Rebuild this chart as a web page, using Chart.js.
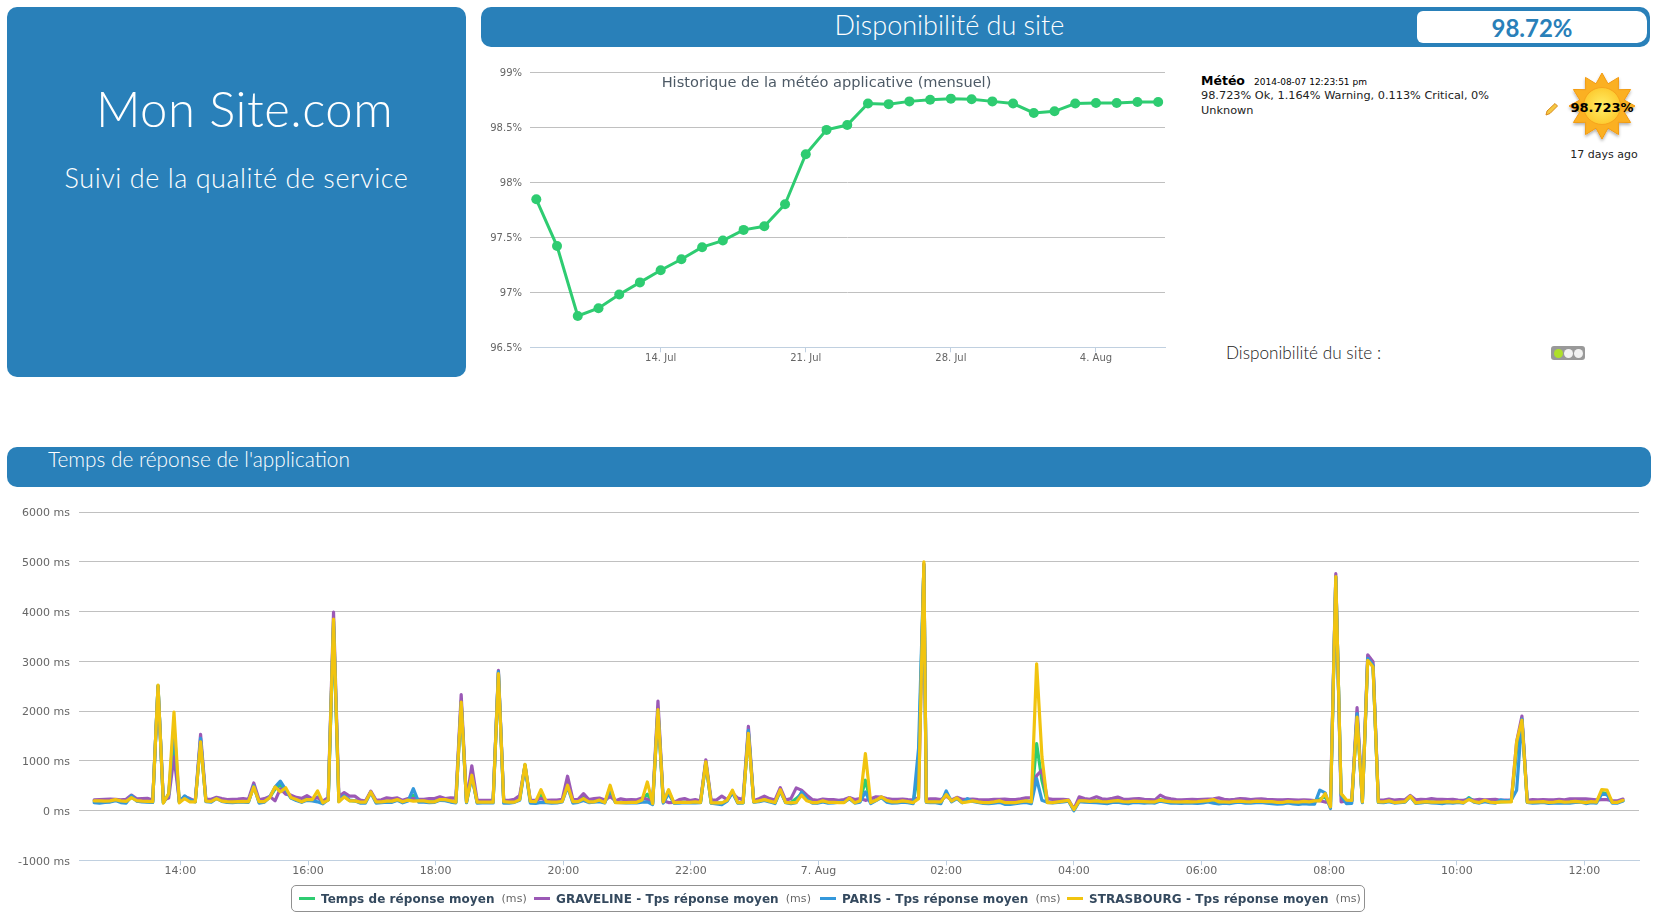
<!DOCTYPE html>
<html lang="fr"><head><meta charset="utf-8">
<title>Mon Site.com</title>
<script src="https://cdn.jsdelivr.net/npm/chart.js@4/dist/chart.umd.js"></script>
<style>
html,body{margin:0;padding:0;background:#fff;width:1659px;height:913px;overflow:hidden}
.abs{position:absolute}
.panel{position:absolute;background:#2980b9;border-radius:10px}
.cg{font-family:Lato,"Open Sans",sans-serif;font-weight:300;color:#fff;white-space:nowrap}
.dj{font-family:"DejaVu Sans",sans-serif;white-space:nowrap}
canvas{position:absolute;display:block}
#legend{position:absolute;left:291px;top:885px;width:1072px;height:25px;border:1px solid #909090;border-radius:5px;box-sizing:content-box;display:flex;align-items:center;font:bold 12px "DejaVu Sans",sans-serif;letter-spacing:.06px;color:#34495e;white-space:nowrap}
#legend .it{position:absolute;top:0;height:25px;display:flex;align-items:center}
#legend i{display:inline-block;width:16px;height:3px;margin-right:6px}
#legend em{font:normal 11px "DejaVu Sans",sans-serif;color:#666;margin-left:7px}
</style></head><body>

<div class="panel" style="left:7px;top:7px;width:459px;height:370px"></div>
<div class="abs cg" style="left:15px;width:459px;top:78px;text-align:center;font-size:49px;letter-spacing:.5px;line-height:60px">Mon Site.com</div>
<div class="abs cg" style="left:7px;width:459px;top:160px;text-align:center;font-size:27px;letter-spacing:.55px;line-height:36px">Suivi de la qualité de service</div>

<div class="panel" style="left:481px;top:7px;width:1169px;height:40px"></div>
<div class="abs cg" style="left:482px;width:935px;top:7.5px;text-align:center;font-size:27px;line-height:34px">Disponibilité du site</div>
<div class="abs" style="left:1417px;top:11px;width:230px;height:32px;background:#fff;border-radius:6px 10px 10px 6px"></div>
<div class="abs cg" style="left:1417px;width:230px;top:10.5px;text-align:center;font-size:24px;line-height:34px;font-weight:700;color:#2980b9">98.72%</div>

<canvas id="dispo" width="692" height="330" style="left:488px;top:50px;width:692px;height:330px"></canvas>

<div class="abs" style="left:1201px;top:73px;font:bold 12.5px 'DejaVu Sans',sans-serif;color:#000">Météo</div>
<div class="abs dj" style="left:1254px;top:76.5px;font-size:9px;color:#000">2014-08-07 12:23:51 pm</div>
<div class="abs dj" style="left:1201px;top:89px;width:300px;white-space:normal;font-size:11.3px;line-height:14.5px;color:#222">98.723% Ok, 1.164% Warning, 0.113% Critical, 0% Unknown</div>

<svg class="abs" id="pencil" style="left:1545px;top:102px" width="14" height="14" viewBox="0 0 14 14">
<path d="M1 13 L2 9 L10 1.5 L12.5 4 L5 11.5 Z" fill="#f5c842" stroke="#d98a1f" stroke-width="1"/></svg>
<svg class="abs" id="sun" style="left:1562px;top:66px" width="80" height="80" viewBox="0 0 80 80">
<defs><radialGradient id="sg"><stop offset="0" stop-color="#ffee66"/><stop offset="1" stop-color="#fdcb30"/></radialGradient>
<filter id="sd"><feDropShadow dx="0" dy="2" stdDeviation="1.5" flood-color="#000" flood-opacity=".3"/></filter></defs>
<polygon id="star" fill="#fbb024" stroke="#f29a12" stroke-width="1" filter="url(#sd)"/>
<circle cx="40" cy="40" r="18.5" fill="url(#sg)" stroke="#f7a41d" stroke-width="1"/></svg>
<div class="abs dj" style="left:1562px;width:80px;top:100px;text-align:center;font-size:13px;font-weight:bold;color:#000">98.723%</div>
<div class="abs dj" style="left:1564px;width:80px;top:148px;text-align:center;font-size:11px;color:#222">17 days ago</div>

<div class="abs" style="left:1226px;top:342px;font:300 17.2px Lato,sans-serif;color:#222;white-space:nowrap">Disponibilité du site :</div>
<div class="abs" style="left:1551px;top:346px;width:34px;height:14px;background:#999;border-radius:3px"></div>
<div class="abs" style="left:1554px;top:348.5px;width:9px;height:9px;border-radius:50%;background:#aee02a"></div>
<div class="abs" style="left:1564px;top:348.5px;width:9px;height:9px;border-radius:50%;background:#f2f2f2"></div>
<div class="abs" style="left:1574px;top:348.5px;width:9px;height:9px;border-radius:50%;background:#f2f2f2"></div>

<div class="panel" style="left:7px;top:447px;width:1644px;height:40px"></div>
<div class="abs cg" style="left:48px;top:444.5px;font-size:20.8px;line-height:28px">Temps de réponse de l'application</div>

<canvas id="temps" width="1659" height="433" style="left:0;top:480px;width:1659px;height:433px"></canvas>
<div id="legend"></div>

<script>
// --- Historique de la météo (mensuel) ---
const dispoDays = [8,9,10,11,12,13,14,15,16,17,18,19,20,21,22,23,24,25,26,27,28,29,30,31,32,33,34,35,36,37,38];
const dispoValues = [97.845,97.42,96.785,96.855,96.98,97.09,97.2,97.3,97.41,97.47,97.567,97.6,97.8,98.255,98.476,98.52,98.715,98.71,98.735,98.75,98.76,98.755,98.735,98.715,98.63,98.645,98.715,98.72,98.72,98.73,98.73];
const dispoTickDays = [14,21,28,35];
const dispoTickLabels = ["14. Jul","21. Jul","28. Jul","4. Aug"];
const dispoTitle = "Historique de la météo applicative (mensuel)";

// --- Temps de réponse (ms), one sample roughly every 5 minutes from 12:39 ---
const seriesNames = ["Temps de réponse moyen","GRAVELINE - Tps réponse moyen","PARIS - Tps réponse moyen","STRASBOURG - Tps réponse moyen"];
const moyen = [
190,180,185,195,215,185,170,270,200,190,180,175,2510,160,330,1450,170,260,190,180,
1400,190,185,250,195,180,175,180,180,180,490,175,180,265,430,520,400,255,215,175,
250,215,275,165,215,3700,185,285,200,195,175,170,375,170,170,190,185,215,170,205,
310,190,190,175,175,220,215,190,170,2200,170,700,170,170,170,170,2770,170,170,175,
230,920,175,175,320,175,175,170,190,520,185,195,275,180,185,215,170,375,170,165,
165,170,165,215,330,145,2050,170,380,155,165,170,165,175,165,970,150,150,150,200,
380,160,155,1570,175,190,220,185,155,410,165,160,240,340,220,165,160,190,170,165,
175,175,250,165,190,610,165,210,270,210,180,180,195,180,165,800,4950,
180,
175,175,170,340,190,250,165,190,195,175,160,160,175,190,155,155,160,180,195,175,
1345,600,170,165,175,190,200,15,200,190,
190,200,185,180,190,205,180,180,190,185,180,180,175,220,195,180,175,175,180,180,
185,190,200,215,170,175,170,185,190,180,175,190,185,180,180,165,165,180,175,170,180,175,190,
230,275,70,4700,330,190,190,1900,170,3030,2900,170,170,195,165,170,180,290,160,170,
180,170,170,170,180,170,180,165,260,185,165,200,170,165,175,180,185,1200,1820,170,
170,175,180,170,170,185,175,180,185,180,165,180,175,360,340,170,170,200];
const graveline = [
215,220,225,230,225,215,225,310,235,240,245,210,2480,210,250,1080,190,275,240,190,
1530,230,225,265,240,220,225,230,240,225,555,215,240,285,195,440,330,310,265,245,
300,235,260,190,260,3990,280,360,290,290,210,190,390,205,215,255,240,255,205,240,
240,225,225,240,240,275,240,255,250,2330,195,900,205,205,205,205,2820,210,205,225,
300,900,210,205,240,205,210,210,225,690,220,225,340,220,240,250,210,280,195,235,
215,220,215,250,225,170,2200,195,160,165,220,240,200,220,190,1020,210,210,290,220,
350,250,220,1690,195,240,290,240,210,460,210,240,455,410,310,220,205,230,220,220,
205,220,260,220,240,205,235,275,270,240,225,225,230,220,215,260,4960,
225,
235,235,220,290,215,265,225,225,230,220,215,215,225,225,230,220,220,235,255,260,
700,810,240,225,225,225,215,30,275,240,
225,275,235,225,245,270,230,225,235,240,225,220,215,310,255,235,220,215,220,225,
220,225,230,235,255,225,215,225,240,235,220,230,235,225,220,215,215,220,215,210,215,210,200,
200,170,170,4760,175,195,195,2070,200,3130,2990,210,210,230,210,220,215,305,215,225,
220,240,225,225,220,225,210,205,230,210,225,215,220,225,205,210,205,1380,1900,205,
220,215,220,215,215,225,215,235,235,235,235,225,215,220,220,200,195,230];
const paris = [
160,150,165,170,200,160,150,300,190,175,170,165,2500,160,320,1700,170,295,215,175,
1450,180,170,245,185,165,160,170,170,165,500,150,170,275,470,590,420,250,200,165,
205,195,175,135,220,3800,190,300,210,195,150,150,360,150,160,170,165,205,155,190,
440,170,170,160,165,205,200,170,155,2150,160,690,150,155,155,155,2790,150,150,165,
205,890,150,145,165,160,150,155,175,480,150,165,200,160,170,180,150,450,165,160,
155,160,155,170,175,120,2000,150,340,150,150,160,155,155,160,960,150,135,120,190,
360,150,155,1610,170,180,205,175,140,390,160,140,160,375,240,150,150,175,150,155,
170,170,235,150,170,375,140,200,260,170,150,155,170,160,140,1250,4900,
165,
160,160,140,395,175,240,155,240,185,165,145,140,150,165,125,125,140,155,165,140,
640,205,165,155,165,175,190,-5,180,170,
165,160,150,140,165,170,150,140,165,160,150,160,150,190,170,150,150,145,155,150,
145,155,175,150,135,150,140,160,170,150,150,160,165,150,140,130,135,155,135,125,140,130,130,
410,355,40,4680,300,140,145,1950,160,3060,2920,165,160,180,150,160,170,285,145,155,
170,155,150,140,160,150,165,150,245,170,150,180,160,150,215,195,210,410,1840,165,
150,155,165,145,150,150,155,150,165,170,140,160,150,330,320,150,150,190];
const strasbourg = [
195,195,190,195,220,195,185,260,200,190,185,180,2520,150,340,1980,155,240,175,175,
1380,188,185,240,190,180,175,180,185,180,475,180,180,260,475,375,460,260,220,175,
220,220,395,155,210,3850,175,275,195,195,170,170,375,175,175,190,190,220,175,210,
190,195,195,175,175,220,220,195,170,2180,175,710,170,170,170,170,2750,180,170,170,
220,930,185,180,420,180,170,170,185,510,180,180,240,175,175,210,160,510,160,160,
160,165,165,210,575,140,2030,175,420,160,165,165,165,175,165,980,155,155,155,205,
410,160,160,1550,175,195,220,190,160,420,165,155,165,310,195,160,160,195,165,165,
160,160,255,155,195,1145,160,205,275,205,175,175,195,180,160,240,5000,
175,
175,175,175,320,190,255,160,175,195,175,160,160,175,195,160,160,160,180,195,175,
2950,1080,160,160,175,190,205,20,195,195,
185,195,180,175,190,200,180,175,190,185,180,175,175,210,190,180,175,175,180,175,
180,190,200,220,175,175,170,185,190,180,175,190,185,180,180,165,165,185,175,170,185,175,195,
195,340,75,4700,340,210,205,1880,175,3020,2885,175,175,195,160,170,180,290,155,170,
180,170,170,170,180,170,180,160,220,180,160,205,170,160,175,175,175,1380,1815,170,
170,175,180,165,170,185,170,175,185,175,160,180,170,420,410,165,165,205];
const seriesColors = ["#2ecc71","#9b59b6","#3498db","#f1c40f"];
const tempsTicks = [840,960,1080,1200,1320,1440,1560,1680,1800,1920,2040,2160];
const tempsYStep = 1000;

// sample clock: 5-minute slots, with one short interval right after the 01:39 spike
function sampleMinute(j){
  const pos = j<=156 ? j : j===157 ? 156.45 : j<=188 ? (j-1)+0.2 : (j-1)+0.45;
  return 759 + 5*pos;
}
function pad2(n){return String(n).padStart(2,"0");}
function tempsLabel(v){
  if(v===1440) return "7. Aug";
  return pad2(Math.floor(v/60)%24)+":00";
}

// decorative sun star
(function(){
  const pts=[];
  for(let i=0;i<24;i++){const r=i%2?23:33,a=Math.PI*i/12-Math.PI/2;pts.push((40+r*Math.cos(a)).toFixed(1)+","+(40+r*Math.sin(a)).toFixed(1));}
  document.getElementById("star").setAttribute("points",pts.join(" "));
})();

Chart.defaults.font.family='"DejaVu Sans",sans-serif';
Chart.defaults.animation=false;

new Chart(document.getElementById("dispo"),{
  type:"line",
  data:{datasets:[{data:dispoDays.map((d,i)=>({x:d,y:dispoValues[i]})),borderColor:"#2ecc71",backgroundColor:"#2ecc71",borderWidth:3,pointRadius:5,pointBackgroundColor:"#2ecc71",pointBorderWidth:0,tension:0,clip:false}]},
  options:{responsive:false,devicePixelRatio:1,animation:false,
    layout:{padding:{left:0,right:15,top:0,bottom:7.7}},
    plugins:{legend:{display:false},tooltip:{enabled:false},
      title:{display:true,text:dispoTitle,color:"#4d5a66",font:{size:14.6,weight:"normal"},padding:{top:24,bottom:-19.3}}},
    scales:{
      x:{type:"linear",min:7.696,max:38.33,
        afterBuildTicks:s=>{s.ticks=dispoTickDays.map(value=>({value}));},
        afterFit:s=>{s.height=25;},
        grid:{drawOnChartArea:false,drawTicks:true,tickLength:5,tickColor:"#c0d0e0"},
        border:{color:"#c0d0e0"},
        ticks:{padding:0,color:"#666",font:{size:10},maxRotation:0,autoSkip:false,
          callback:v=>dispoTickLabels[dispoTickDays.indexOf(v)]}},
      y:{min:96.5,max:99,
        afterFit:s=>{s.width=42;},
        grid:{color:c=>c.tick.value===96.5?"#c0d0e0":"#c0c0c0",drawTicks:false},
        border:{display:false},
        ticks:{stepSize:0.5,padding:8,labelOffset:1.5,color:"#666",font:{size:10},callback:v=>v+"%"}}
    }}
});

const tempsChart=new Chart(document.getElementById("temps"),{
  type:"line",
  data:{datasets:[moyen,graveline,paris,strasbourg].map((vals,k)=>({
    label:seriesNames[k],
    data:vals.map((v,j)=>({x:sampleMinute(j),y:v})),
    borderColor:seriesColors[k],backgroundColor:seriesColors[k],
    borderWidth:3.2,pointRadius:0,tension:0,borderJoinStyle:"round",borderCapStyle:"round",order:4-k}))},
  options:{responsive:false,devicePixelRatio:1,animation:false,parsing:true,
    layout:{padding:{left:0,right:20,top:32,bottom:27.7}},
    plugins:{legend:{display:false},tooltip:{enabled:false}},
    scales:{
      x:{type:"linear",min:744.7,max:2211.3,
        afterBuildTicks:s=>{s.ticks=tempsTicks.map(value=>({value}));},
        afterFit:s=>{s.height=25;},
        grid:{drawOnChartArea:false,drawTicks:true,tickLength:5,tickColor:"#c0d0e0"},
        border:{color:"#c0d0e0"},
        ticks:{padding:-1,color:"#666",font:{size:11},maxRotation:0,autoSkip:false,callback:tempsLabel}},
      y:{min:-1000,max:6000,
        afterFit:s=>{s.width=79;},
        grid:{color:c=>c.tick.value===-1000?"#c0d0e0":"#c0c0c0",drawTicks:false},
        border:{display:false},
        ticks:{stepSize:tempsYStep,padding:9,labelOffset:1.5,color:"#666",font:{size:11},callback:v=>v+" ms"}}
    }}
});

// legend built from the chart's datasets
(function(){
  const lg=document.getElementById("legend");
  const lefts=[7,242,528,775];
  tempsChart.data.datasets.forEach((d,k)=>{
    const it=document.createElement("div");it.className="it";it.style.left=lefts[k]+"px";
    const sw=document.createElement("i");sw.style.background=d.borderColor;
    const tx=document.createElement("span");tx.textContent=d.label;
    const un=document.createElement("em");un.textContent="(ms)";
    it.append(sw,tx,un);lg.append(it);
  });
})();
</script>
</body></html>
